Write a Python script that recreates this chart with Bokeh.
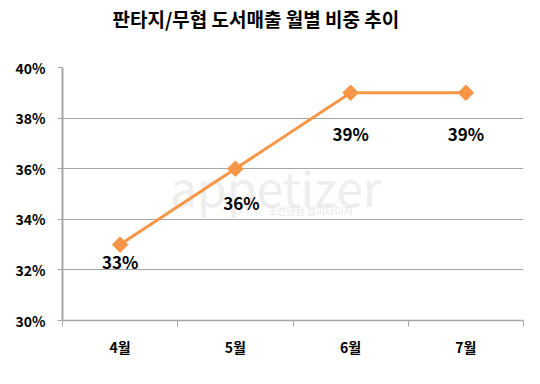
import math
from bokeh.plotting import figure
from bokeh.models import ColumnDataSource, FixedTicker, PrintfTickFormatter, Range1d, Label, Title
from bokeh.core.properties import value
from bokeh.embed import file_html
from bokeh.resources import INLINE

title = "판타지/무협 도서매출 월별 비중 추이"
months = ["4월", "5월", "6월", "7월"]
share = [33, 36, 39, 39]
share_labels = ["33%", "36%", "39%", "39%"]
y_ticks = [30, 32, 34, 36, 38, 40]

# label placement (pixels)
label_dx = [0, 6, 0, 0]
label_dy = [17, 34, 41, 41]

FONT = "Noto Sans CJK KR"
ORANGE = "#F79646"
GRID = "#a6a6a6"

xs = [i + 0.5 for i in range(len(months))]
src = ColumnDataSource(dict(x=xs, y=share, lab=share_labels, dx=label_dx, dy=label_dy))

p = figure(width=524, height=368, output_backend="svg", toolbar_location=None, title=None,
           x_range=Range1d(0, len(months)), y_range=Range1d(y_ticks[0], y_ticks[-1]),
           min_border_left=62, min_border_right=1, min_border_top=67, min_border_bottom=48)
p.outline_line_color = None
p.background_fill_color = "white"
p.border_fill_color = "white"

# spacer between frame and title, then the title itself
p.add_layout(Title(text=" ", text_font_size="1px", standoff=33), "above")
p.add_layout(Title(text=title, text_font=FONT, text_font_size="19px", text_font_style="bold",
                   text_color="black", align="left", offset=50, standoff=0), "above")

# watermark
p.add_layout(Label(x=1.85, y=35.3, text="appetizer", text_font=FONT, text_font_size="48px",
                   text_color="#eeeeee", text_align="center", text_baseline="middle", level="image"))
p.add_layout(Label(x=2.15, y=34.35, text="조선닷컴 앱피타이저", text_font=FONT, text_font_size="10px",
                   text_color="#e6e6e6", text_align="center", text_baseline="middle", level="image"))

# axes
p.yaxis.ticker = FixedTicker(ticks=y_ticks)
p.yaxis.formatter = PrintfTickFormatter(format="%d%%")
p.yaxis.axis_line_color = GRID
p.yaxis.axis_line_width = 2
p.yaxis.major_tick_line_color = GRID
p.yaxis.major_tick_out = 5
p.yaxis.major_tick_in = 0
p.yaxis.minor_tick_line_color = None
p.yaxis.major_label_text_font = FONT
p.yaxis.major_label_text_font_style = "bold"
p.yaxis.major_label_text_font_size = "14px"
p.yaxis.major_label_text_color = "black"
p.yaxis.major_label_standoff = 12

p.xaxis.ticker = FixedTicker(ticks=xs, minor_ticks=list(range(len(months) + 1)))
p.xaxis.major_label_overrides = {x: m for x, m in zip(xs, months)}
p.xaxis.axis_line_color = GRID
p.xaxis.axis_line_width = 1.5
p.xaxis.major_tick_line_color = None
p.xaxis.minor_tick_line_color = GRID
p.xaxis.minor_tick_out = 6
p.xaxis.minor_tick_in = 0
p.xaxis.major_label_text_font = FONT
p.xaxis.major_label_text_font_style = "bold"
p.xaxis.major_label_text_font_size = "14px"
p.xaxis.major_label_text_color = "black"
p.xaxis.major_label_standoff = 10

p.xgrid.grid_line_color = None
p.ygrid.ticker = FixedTicker(ticks=y_ticks)
p.ygrid.grid_line_color = GRID
p.ygrid.grid_line_width = 1

p.line("x", "y", source=src, line_color=ORANGE, line_width=3)
p.scatter("x", "y", source=src, marker="square", size=11, angle=math.pi / 4,
          fill_color=ORANGE, line_color=ORANGE)
p.text("x", "y", text="lab", source=src, x_offset="dx", y_offset="dy",
       text_font=value(FONT), text_font_style="bold", text_font_size="17px",
       text_color="black", text_align="center", text_baseline="middle")

open("out.html", "w").write(file_html(p, INLINE))
